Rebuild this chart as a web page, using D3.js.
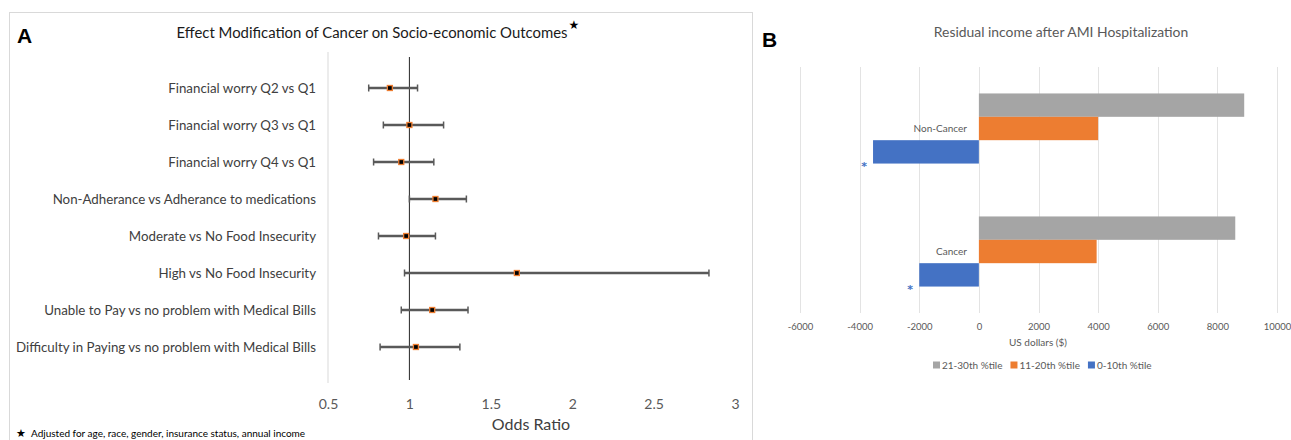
<html>
<head>
<meta charset="utf-8">
<script src="https://d3js.org/d3.v7.min.js"></script>
<style>
body { margin: 0; background: #fff; }
text { font-family: Lato, "Open Sans", sans-serif; }
</style>
</head>
<body>
<svg id="chart" width="1291" height="440"></svg>
<script>
// ---- panel A data (odds ratios with CI) ----
var outcomes = ["Financial worry Q2 vs Q1", "Financial worry Q3 vs Q1", "Financial worry Q4 vs Q1",
  "Non-Adherance vs Adherance to medications", "Moderate vs No Food Insecurity",
  "High vs No Food Insecurity", "Unable to Pay vs no problem with Medical Bills",
  "Difficulty in Paying vs no problem with Medical Bills"];
var oddsRatio = [0.88, 1.00, 0.95, 1.16, 0.98, 1.66, 1.14, 1.04];
var ciLow     = [0.75, 0.84, 0.78, 1.00, 0.81, 0.97, 0.95, 0.82];
var ciHigh    = [1.05, 1.21, 1.15, 1.35, 1.16, 2.84, 1.36, 1.31];
var orTicks   = [0.5, 1, 1.5, 2, 2.5, 3];

// ---- panel B data (residual income) ----
var groups  = ["Non-Cancer", "Cancer"];
var series  = ["21-30th %tile", "11-20th %tile", "0-10th %tile"];
var pct2130 = [8900, 8600];
var pct1120 = [4000, 3950];
var pct0010 = [-3550, -2000];
var usdTicks = [-6000, -4000, -2000, 0, 2000, 4000, 6000, 8000, 10000];
var colors = ["#A5A5A5", "#ED7D31", "#4472C4"];

var svg = d3.select("#chart");

/// ================= PANEL A =================
var gA = svg.append("g");
gA.append("rect").attr("x", 9.5).attr("y", 12.5).attr("width", 743).attr("height", 440)
  .attr("fill", "none").attr("stroke", "#d9d9d9");

gA.append("text").attr("x", 17).attr("y", 43)
  .style("font", "bold 21px 'Liberation Sans', Arial").text("A");

gA.append("text").attr("x", 372).attr("y", 38).attr("text-anchor", "middle")
  .style("font-size", "14.9px").attr("fill", "#1a1a1a")
  .text("Effect Modification of Cancer on Socio-economic Outcomes");
gA.append("text").attr("x", 574).attr("y", 29).attr("text-anchor", "middle")
  .style("font", "12px 'DejaVu Sans'").text("\u2605");

var xA = d3.scaleLinear().domain([0.5, 3]).range([328, 735]);
var yA = d3.scalePoint().domain(outcomes).range([88, 347]);

// vertical axis line at 0.5 and reference line at OR = 1
gA.append("line").attr("x1", xA(0.5)).attr("x2", xA(0.5)).attr("y1", 52).attr("y2", 383)
  .attr("stroke", "#d9d9d9");
gA.append("line").attr("x1", xA(1)).attr("x2", xA(1)).attr("y1", 57).attr("y2", 380)
  .attr("stroke", "#262626");

// row labels
gA.selectAll(".rowlab").data(outcomes).enter().append("text")
  .attr("class", "rowlab")
  .attr("x", 316).attr("y", function(d) { return yA(d); }).attr("dy", "0.35em")
  .attr("text-anchor", "end").style("font-size", "13.3px").attr("fill", "#404040")
  .text(function(d) { return d; });

// error bars
var rows = outcomes.map(function(d, i) { return {k: d, or: oddsRatio[i], lo: ciLow[i], hi: ciHigh[i]}; });
var eb = gA.selectAll(".eb").data(rows).enter().append("g").attr("class", "eb");
eb.append("line")
  .attr("x1", function(d) { return xA(d.lo); }).attr("x2", function(d) { return xA(d.hi); })
  .attr("y1", function(d) { return yA(d.k); }).attr("y2", function(d) { return yA(d.k); })
  .attr("stroke", "#595959").attr("stroke-width", 2.5);
["lo", "hi"].forEach(function(end) {
  eb.append("line")
    .attr("x1", function(d) { return xA(d[end]); }).attr("x2", function(d) { return xA(d[end]); })
    .attr("y1", function(d) { return yA(d.k) - 3.5; }).attr("y2", function(d) { return yA(d.k) + 3.5; })
    .attr("stroke", "#595959").attr("stroke-width", 1.5);
});
eb.append("rect")
  .attr("x", function(d) { return xA(d.or) - 2.5; }).attr("y", function(d) { return yA(d.k) - 2.5; })
  .attr("width", 5).attr("height", 5)
  .attr("fill", "#000").attr("stroke", "#ED7D31").attr("stroke-width", 1.3);

// x axis labels
var axA = gA.append("g").attr("transform", "translate(0,396)")
  .call(d3.axisBottom(xA).tickValues(orTicks).tickSize(0).tickFormat(function(d) { return String(d); }));
axA.select(".domain").remove();
axA.selectAll("text").style("font-family", "Lato").style("font-size", "14px").attr("fill", "#595959");

gA.append("text").attr("x", 531).attr("y", 430).attr("text-anchor", "middle")
  .style("font-size", "16px").attr("fill", "#404040").text("Odds Ratio");

gA.append("text").attr("x", 16).attr("y", 437)
  .style("font", "11px 'DejaVu Sans'").text("\u2605");
gA.append("text").attr("x", 31).attr("y", 437)
  .style("font-size", "10px").attr("fill", "#000")
  .text("Adjusted for age, race, gender, insurance status, annual income");

/// ================= PANEL B =================
var gB = svg.append("g");
gB.append("text").attr("x", 762).attr("y", 47)
  .style("font", "bold 21px 'Liberation Sans', Arial").text("B");
gB.append("text").attr("x", 1061).attr("y", 37).attr("text-anchor", "middle")
  .style("font-size", "13.9px").attr("fill", "#595959").text("Residual income after AMI Hospitalization");

var xB = d3.scaleLinear().domain([-6000, 10000]).range([800, 1277]);
var yB = d3.scaleBand().domain(groups).range([67, 313]).paddingInner(0.43).paddingOuter(0.215);
var yS = d3.scaleBand().domain(series).range([0, yB.bandwidth()]);

// gridlines
gB.selectAll(".grid").data(usdTicks).enter().append("line")
  .attr("x1", function(d) { return Math.round(xB(d)) + 0.5; })
  .attr("x2", function(d) { return Math.round(xB(d)) + 0.5; })
  .attr("y1", 67).attr("y2", 313).attr("stroke", "#e3e3e3");

var vals = [pct2130, pct1120, pct0010];
var bars = [];
groups.forEach(function(g, i) {
  series.forEach(function(s, j) { bars.push({g: g, s: s, v: vals[j][i], c: colors[j]}); });
});
gB.selectAll(".bar").data(bars).enter().append("rect")
  .attr("x", function(d) { return xB(Math.min(0, d.v)); })
  .attr("width", function(d) { return Math.abs(xB(d.v) - xB(0)); })
  .attr("y", function(d) { return yB(d.g) + yS(d.s); })
  .attr("height", yS.bandwidth())
  .attr("fill", function(d) { return d.c; });

// category labels
gB.selectAll(".cat").data(groups).enter().append("text")
  .attr("x", xB(0) - 12).attr("y", function(d) { return yB(d) + yB.bandwidth() / 2; })
  .attr("dy", "0.35em").attr("text-anchor", "end")
  .style("font-size", "10px").attr("fill", "#595959").text(function(d) { return d; });

// significance stars next to the lowest percentile bars
gB.selectAll(".star").data(groups).enter().append("text")
  .attr("x", function(d, i) { return xB(pct0010[i]) - 9; })
  .attr("y", function(d) { return yB(d) + yB.bandwidth() + 6; })
  .attr("text-anchor", "middle").style("font", "bold 11px 'DejaVu Sans'").attr("fill", "#4472C4").text("*");

var axB = gB.append("g").attr("transform", "translate(0,320)")
  .call(d3.axisBottom(xB).tickValues(usdTicks).tickSize(0).tickFormat(function(d) { return String(d); }));
axB.select(".domain").remove();
axB.selectAll("text").style("font-family", "Lato").style("font-size", "9.5px").attr("fill", "#595959");

gB.append("text").attr("x", 1038).attr("y", 346).attr("text-anchor", "middle")
  .style("font-size", "10px").attr("fill", "#595959").text("US dollars ($)");

// legend
var lg = gB.append("g").attr("transform", "translate(933,365)");
var lx = 0;
series.forEach(function(s, j) {
  lg.append("rect").attr("x", lx).attr("y", -3.5).attr("width", 7).attr("height", 7).attr("fill", colors[j]);
  var t = lg.append("text").attr("x", lx + 9).attr("y", 0).attr("dy", "0.35em")
    .style("font-size", "10px").attr("fill", "#595959").text(s);
  lx += 9 + t.node().getComputedTextLength() + 8;
});
</script>
</body>
</html>
